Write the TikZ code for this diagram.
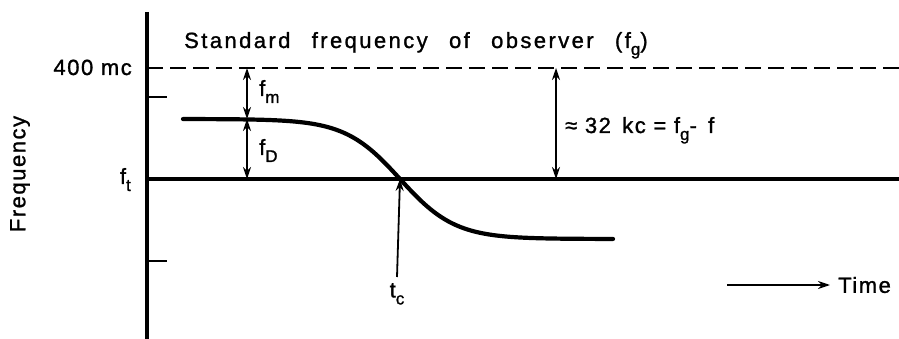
\documentclass[tikz,border=0pt]{standalone}
\usepackage{fontspec}
\setmainfont{Liberation Sans}[LetterSpace=7,FakeBold=1.2]
\newfontfamily\widefont{Liberation Sans}[LetterSpace=11,WordSpace=2.5,FakeBold=1.2]
\newcommand{\lsub}[1]{\raisebox{-7pt}{\fontsize{17}{19}\selectfont #1}}
\usetikzlibrary{arrows.meta,positioning}

\begin{document}
\begin{tikzpicture}[
  x=1pt,y=-1pt,
  >={Stealth[length=12pt,width=8pt]},
  axis/.style={line width=4pt},
  dim/.style={<->,line width=1.8pt},
  lbl/.style={font=\fontsize{22}{26}\selectfont,inner sep=0},
]
  \useasboundingbox (0,0) rectangle (899,339);
  % axis, reference lines and ticks
  \draw[axis] (147,12) -- (147,339);
  \draw[axis] (147,179) -- (899,179);
  \draw[line width=2.4pt,dash pattern=on 16pt off 7pt] (147,68) -- (899,68);
  \foreach \y in {97,261}
    \draw[line width=2.4pt] (147,\y) -- (167,\y);

  % received frequency during the pass
  \draw[line width=4.2pt,line cap=round]
    plot[domain=183:613,samples=80,smooth] (\x,{179-60*tanh((400-\x)/55)});

  \coordinate (mTop) at (247,68);
  \coordinate (mBot) at (247,119);
  \coordinate (dBot) at (247,179);
  \coordinate (gTop) at (556,68);
  \coordinate (gBot) at (556,179);
  \coordinate (cross) at (400,179);
  \coordinate (tStart) at (727,285);

  \draw[dim] (mTop) -- (mBot);
  \draw[dim] (mBot) -- (dBot);
  \draw[dim] (gTop) -- (gBot);

  \node[lbl,anchor=base west] (title) at (184,48)
    {\widefont Standard frequency of observer (f\lsub{g})};
  \node[lbl,anchor=base east] (top) at (132,75) {400 mc};
  \node[lbl,anchor=base east] (ftLbl) at (131,184) {f\lsub{t}};
  \node[lbl,anchor=base west] (fmLbl) at (259,96) {f\lsub{m}};
  \node[lbl,anchor=base west] (fdLbl) at (259,155) {f\lsub{D}};
  \node[lbl,anchor=base west] (diff) at (565,133) {≈ 32\, kc = f\lsub{g}-\, f};
  \node[lbl,rotate=90] (ylab) at (20,174) {Frequency};
  \node[lbl,anchor=north,inner ysep=6pt] (tcLbl) at (397,277) {t\lsub{c}};
  \node[lbl,anchor=west,inner xsep=8pt] (time) at (830,285) {Time};

  \draw[->,line width=1.8pt] (tcLbl.north) -- (cross);
  \draw[->,line width=1.8pt] (tStart) -- (time.west);
\end{tikzpicture}
\end{document}
